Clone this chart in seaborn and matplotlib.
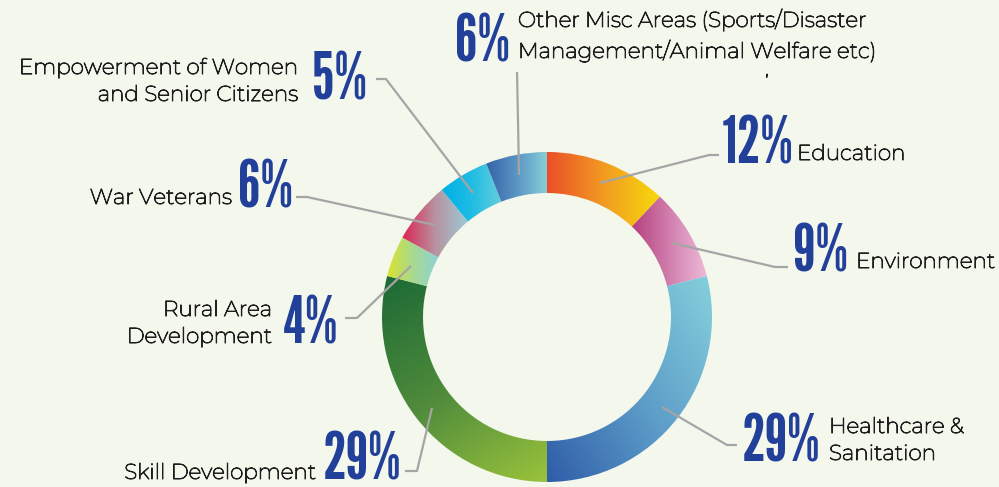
import numpy as np
import matplotlib
matplotlib.use("Agg")
import matplotlib.pyplot as plt
import matplotlib.patheffects as pe
from matplotlib.patches import Wedge
import seaborn as sns

# CSR spend share by area (percent), clockwise from 12 o'clock
areas = ["Education", "Environment", "Healthcare & Sanitation", "Skill Development",
         "Rural Area Development", "War Veterans",
         "Empowerment of Women and Senior Citizens", "Other Misc Areas"]
shares = [12, 9, 29, 29, 4, 6, 5, 6]
pct_labels = ["12%", "9%", "29%", "29%", "4%", "6%", "5%", "6%"]
name_labels = ["Education", "Environment", "Healthcare &\nSanitation", "Skill Development",
               "Rural Area\nDevelopment", "War Veterans",
               "Empowerment of Women\nand Senior Citizens",
               "Other Misc Areas (Sports/Disaster\nManagement/Animal Welfare etc)"]

# gradient stops for each segment and the direction of the gradient (x right, y down)
gradients = [
    (["#EB4F27", "#F29A22", "#F7D90A"], (1.0, 0.0)),
    (["#B6407F", "#D27FAE", "#EDBBD7"], (1.0, 0.0)),
    (["#2F5DA8", "#5C9CC8", "#84CEDB"], (1.0, -0.6)),
    (["#1C6A36", "#4F8B3B", "#9AC33C"], (0.6, 1.0)),
    (["#D9E22C", "#A8D98F", "#8BD3D8"], (1.0, 0.0)),
    (["#DB2453", "#B9929F", "#9CCAD6"], (1.0, 0.0)),
    (["#00B0E6", "#20BDE3", "#66CEDB"], (1.0, 0.0)),
    (["#3462A8", "#5A95C3", "#86CED9"], (1.0, 0.0)),
]

sns.set_theme(style="white")
plt.rcParams["font.family"] = ["Montserrat", "DejaVu Sans"]

BG = "#F3F7EC"
PCT_COLOR = "#22409A"
TXT_COLOR = "#1E1E1E"
LINE_COLOR = "#A5A5A5"

fig = plt.figure(figsize=(9.99, 4.87), dpi=100, facecolor=BG)
ax = fig.add_axes([0, 0, 1, 1])
ax.set_facecolor(BG)
ax.set_xlim(0, 999)
ax.set_ylim(487, 0)
ax.set_aspect("equal")
ax.axis("off")

cx, cy = 547, 317
r_out, r_in = 165, 124

# y axis points down, so increasing data angle runs clockwise on screen; start at top (270)
start = 270.0
total = float(sum(shares))
for share, (stops, direction) in zip(shares, gradients):
    span = 360.0 * share / total
    t1, t2 = start, start + span
    wedge = Wedge((cx, cy), r_out, t1, t2, width=r_out - r_in,
                  facecolor="none", edgecolor="none")
    ax.add_patch(wedge)

    # bounding region of the segment
    ang = np.radians(np.linspace(t1, t2, 60))
    px = np.concatenate([cx + r_out * np.cos(ang), cx + r_in * np.cos(ang)])
    py = np.concatenate([cy + r_out * np.sin(ang), cy + r_in * np.sin(ang)])
    x0, x1 = px.min() - 2, px.max() + 2
    y0, y1 = py.min() - 2, py.max() + 2
    dx, dy = direction
    proj = px * dx + py * dy
    pmin, pmax = proj.min(), proj.max()

    gx, gy = np.meshgrid(np.linspace(x0, x1, 200), np.linspace(y0, y1, 200))
    t = np.clip((gx * dx + gy * dy - pmin) / (pmax - pmin), 0, 1)
    cmap = sns.blend_palette(stops, as_cmap=True)
    im = ax.imshow(t, cmap=cmap, extent=(x0, x1, y1, y0), origin="upper",
                   interpolation="bilinear", vmin=0, vmax=1, zorder=2)
    im.set_clip_path(wedge)
    start = t2

# label layout: percent anchor, name anchor, name alignment, leader polyline
layout = [
    ((722, 163), (797, 160), "left", [(719, 155), (709, 155), (600, 183)]),
    ((793, 272), (856, 268), "left", [(788, 267), (775, 267), (672, 243)]),
    ((742, 462), (829, 460), "left", [(737, 445), (727, 445), (662, 407)]),
    ((323, 480), (316, 479), "right", [(405, 471), (417, 471), (432, 408)]),
    ((283, 343), (272, 343), "right", [(345, 318), (357, 318), (411, 266)]),
    ((238, 207), (232, 204), "right", [(296, 197), (307, 197), (435, 225)]),
    ((312, 100), (298, 101), "right", [(376, 79), (386, 79), (473, 193)]),
    ((455, 62), (518, 58), "left", [(517, 72), (518, 120), (519, 175)]),
]

# the thin Montserrat face gets a hairline stroke to reach a light/regular weight
thicken = [pe.withStroke(linewidth=0.7, foreground=TXT_COLOR)]
pct_font = dict(family=["League Gothic", "DejaVu Sans"], fontsize=47, color=PCT_COLOR)
name_font = dict(fontsize=15.5, color=TXT_COLOR, linespacing=1.35, path_effects=thicken)

for pct, name, (ppos, npos, align, leader) in zip(pct_labels, name_labels, layout):
    ax.text(ppos[0], ppos[1], pct, ha="left", va="baseline", zorder=4, **pct_font)
    ax.text(npos[0], npos[1], name, ha=align, va="baseline",
            multialignment=align, zorder=4, **name_font)
    lx, ly = zip(*leader)
    ax.plot(lx, ly, color=LINE_COLOR, lw=1.6, zorder=3, solid_capstyle="butt")

ax.text(767, 75, ",", ha="center", va="baseline", fontsize=13, color=TXT_COLOR,
        path_effects=thicken)

fig.savefig("out.png", dpi=100, facecolor=BG)
